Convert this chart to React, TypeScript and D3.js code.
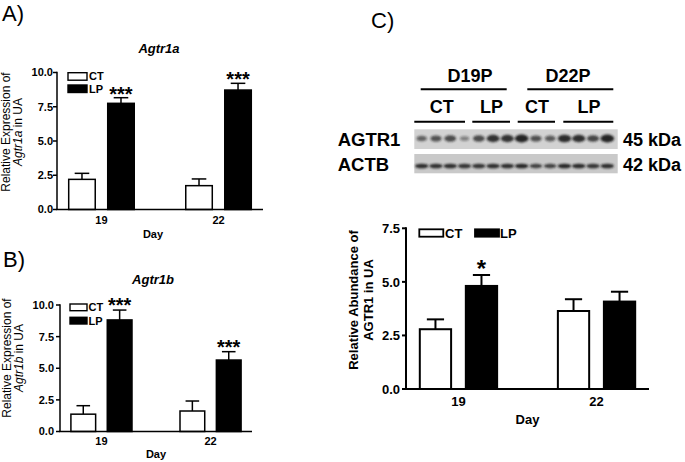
import React from 'react';
import * as d3 from 'd3';

// ---------- data ----------
const days = ['19', '22'];
const groups = ['CT', 'LP'];

// Panel A: Agtr1a relative expression
const aCT = [2.2, 1.74];
const aCTsem = [0.44, 0.49];
const aLP = [7.75, 8.72];
const aLPsem = [0.41, 0.49];
const aLPsig = ['***', '***'];

// Panel B: Agtr1b relative expression
const bCT = [1.37, 1.62];
const bCTsem = [0.67, 0.79];
const bLP = [8.82, 5.65];
const bLPsem = [0.78, 0.66];
const bLPsig = ['***', '***'];

// Panel C: AGTR1 protein abundance
const cCT = [2.79, 3.64];
const cCTsem = [0.46, 0.55];
const cLP = [4.81, 4.08];
const cLPsem = [0.51, 0.46];
const cLPsig = ['*', ''];

const abTicks = [0, 2.5, 5, 7.5, 10];
const cTicks = [0, 2.5, 5, 7.5];

// Western blot band intensities (14 lanes)
const lanes = d3.range(14);
const agtr1Intensity = [0.5, 0.6, 0.68, 0.3, 0.68, 0.85, 0.85, 0.95, 0.62, 0.55, 0.9, 0.88, 0.72, 0.95];
const actbIntensity = [0.9, 0.88, 0.9, 0.85, 0.85, 0.9, 0.9, 0.95, 0.75, 0.75, 0.95, 0.92, 0.85, 0.9];

const FONT = "'Liberation Sans', Arial, Helvetica, sans-serif";
const fmt = d3.format('.1f');

type Cfg = {
  x0: number; x1: number; y0: number; y1: number; yMax: number; ticks: number[];
  sw: number; tickFont: number; tickRight: number; xLabelY: number;
  starFont: number; starGap: number;
};

function BarPanel({ cfg, ct, ctSem, lp, lpSem, sig }: { cfg: Cfg; ct: number[]; ctSem: number[]; lp: number[]; lpSem: number[]; sig: string[] }) {
  const x = d3.scaleBand().domain(days).range([cfg.x0, cfg.x1]).paddingInner(0.44).paddingOuter(0.1);
  const xs = d3.scaleBand().domain(groups).range([0, x.bandwidth()]).paddingInner(0.32);
  const y = d3.scaleLinear().domain([0, cfg.yMax]).range([cfg.y0, cfg.y1]);
  const series = [
    { g: 'CT', vals: ct, sem: ctSem, fill: '#fff', sig: ['', ''] },
    { g: 'LP', vals: lp, sem: lpSem, fill: '#000', sig },
  ];
  return (
    <g>
      {series.map((s) =>
        days.map((d, i) => {
          const bx = (x(d) as number) + (xs(s.g) as number);
          const bw = xs.bandwidth();
          const cx = bx + bw / 2;
          const top = y(s.vals[i]);
          const et = y(s.vals[i] + s.sem[i]);
          const cap = bw * 0.55;
          return (
            <g key={s.g + d}>
              <line x1={cx} x2={cx} y1={top} y2={et} stroke="#000" strokeWidth={cfg.sw} />
              <line x1={cx - cap / 2} x2={cx + cap / 2} y1={et} y2={et} stroke="#000" strokeWidth={cfg.sw} />
              <rect x={bx} y={top} width={bw} height={cfg.y0 - top} fill={s.fill} stroke="#000" strokeWidth={cfg.sw} />
              {s.sig[i] ? (
                <text x={cx} y={et - cfg.starGap + 0.58 * cfg.starFont} textAnchor="middle" fontSize={cfg.starFont} fontWeight="bold" fontFamily={FONT}>
                  {s.sig[i]}
                </text>
              ) : null}
            </g>
          );
        })
      )}
      {/* axes */}
      <line x1={cfg.x0} x2={cfg.x0} y1={cfg.y0} y2={y(cfg.yMax) - cfg.sw / 2} stroke="#000" strokeWidth={cfg.sw} />
      <line x1={cfg.x0 - cfg.sw / 2} x2={cfg.x1} y1={cfg.y0} y2={cfg.y0} stroke="#000" strokeWidth={cfg.sw} />
      {cfg.ticks.map((t) => (
        <g key={t}>
          <line x1={cfg.x0 - 4} x2={cfg.x0} y1={y(t)} y2={y(t)} stroke="#000" strokeWidth={cfg.sw} />
          <text x={cfg.tickRight} y={y(t)} dy="0.36em" textAnchor="end" fontSize={cfg.tickFont} fontWeight="bold" fontFamily={FONT}>
            {fmt(t)}
          </text>
        </g>
      ))}
      {days.map((d) => (
        <text key={d} x={(x(d) as number) + x.bandwidth() / 2} y={cfg.xLabelY} textAnchor="middle" fontSize={cfg.tickFont} fontWeight="bold" fontFamily={FONT}>
          {d}
        </text>
      ))}
    </g>
  );
}

function Legend({ x, y1, y2, w, h, tx, font, horizontal, x2, tx2, ty }: any) {
  if (horizontal) {
    return (
      <g fontFamily={FONT} fontSize={font} fontWeight="bold">
        <rect x={x} y={y1} width={w} height={h} fill="#fff" stroke="#000" strokeWidth={1.8} />
        <text x={tx} y={ty} dy="0.36em">CT</text>
        <rect x={x2} y={y1} width={w} height={h} fill="#000" stroke="#000" strokeWidth={1.8} />
        <text x={tx2} y={ty} dy="0.36em">LP</text>
      </g>
    );
  }
  return (
    <g fontFamily={FONT} fontSize={font} fontWeight="bold">
      <rect x={x} y={y1} width={w} height={h} fill="#fff" stroke="#000" strokeWidth={1.4} />
      <text x={tx} y={y1 + h / 2} dy="0.36em">CT</text>
      <rect x={x} y={y2} width={w} height={h} fill="#000" stroke="#000" strokeWidth={1.4} />
      <text x={tx} y={y2 + h / 2} dy="0.36em">LP</text>
    </g>
  );
}

function Blot() {
  const lx = d3.scalePoint<number>().domain(lanes).range([421.7, 607.3]);
  const strips = [
    { name: 'AGTR1', kda: '45 kDa', y: 129.3, h: 19.7, bg: '#d2d2d2', inten: agtr1Intensity, base: 146, cy: 138.5, tall: true },
    { name: 'ACTB', kda: '42 kDa', y: 154, h: 19.3, bg: '#c9c9c9', inten: actbIntensity, base: 171, cy: 166, tall: false },
  ];
  const headLines = [
    [420.7, 506.7, 89.3], [527.3, 613.3, 89.3],
    [414.3, 465, 121.7], [472.3, 510, 121.7], [517.7, 555, 121.7], [563.3, 613.3, 121.7],
  ];
  return (
    <g fontFamily={FONT} fontWeight="bold">
      <defs>
        <filter id="bandBlur" x="-50%" y="-100%" width="200%" height="300%">
          <feGaussianBlur stdDeviation="1.1" />
        </filter>
      </defs>
      <text x={470} y={82} textAnchor="middle" fontSize={18}>D19P</text>
      <text x={568} y={82} textAnchor="middle" fontSize={18}>D22P</text>
      <text x={441.7} y={112.7} textAnchor="middle" fontSize={18}>CT</text>
      <text x={491.5} y={112.7} textAnchor="middle" fontSize={18}>LP</text>
      <text x={537} y={112.7} textAnchor="middle" fontSize={18}>CT</text>
      <text x={589} y={112.7} textAnchor="middle" fontSize={18}>LP</text>
      {headLines.map(([a, b, yy], i) => (
        <line key={i} x1={a} x2={b} y1={yy} y2={yy} stroke="#000" strokeWidth={2} />
      ))}
      {strips.map((s) => (
        <g key={s.name}>
          <rect x={414.3} y={s.y} width={203.4} height={s.h} fill={s.bg} />
          <g filter="url(#bandBlur)">
            {lanes.map((l) => {
              const v = s.inten[l];
              const rx = s.tall ? 3.5 + 3.5 * v : 5.5 + 1.2 * v;
              const ry = s.tall ? 1.6 + 2.4 * v : 1.8 + 0.6 * v;
              return <ellipse key={l} cx={lx(l)} cy={s.cy} rx={rx} ry={ry} fill="#1e1e1e" opacity={0.25 + 0.75 * v} />;
            })}
          </g>
          <text x={337.7} y={s.base} fontSize={18.5}>{s.name}</text>
          <text x={623} y={s.base} fontSize={18}>{s.kda}</text>
        </g>
      ))}
    </g>
  );
}

export default function App() {
  const cfgA: Cfg = { x0: 57, x1: 263, y0: 209.5, y1: 72.5, yMax: 10, ticks: abTicks, sw: 1.5, tickFont: 11, tickRight: 53, xLabelY: 224, starFont: 20, starGap: 8.7 };
  const cfgB: Cfg = { x0: 60, x1: 252, y0: 431.5, y1: 305, yMax: 10, ticks: abTicks, sw: 1.5, tickFont: 11, tickRight: 54, xLabelY: 445, starFont: 20, starGap: 9.5 };
  const cfgC: Cfg = { x0: 406, x1: 649, y0: 389, y1: 228.3, yMax: 7.5, ticks: cTicks, sw: 2, tickFont: 13, tickRight: 400, xLabelY: 405.7, starFont: 24, starGap: 12.3 };
  return (
    <svg width={685} height={462} viewBox="0 0 685 462" style={{ position: 'absolute', left: 0, top: 0, background: '#fff' }}>
      <rect width={685} height={462} fill="#fff" />
      {/* Panel A */}
      <text x={2} y={21} fontSize={22} fontFamily={FONT}>A)</text>
      <text x={159} y={52.7} textAnchor="middle" fontSize={13} fontWeight="bold" fontStyle="italic" fontFamily={FONT}>Agtr1a</text>
      <g fontFamily={FONT} fontSize={12}>
        <text transform="translate(9.5,132) rotate(-90)" textAnchor="middle">Relative Expression of</text>
        <text transform="translate(21.5,132) rotate(-90)" textAnchor="middle"><tspan fontStyle="italic">Agtr1a</tspan> in UA</text>
      </g>
      <BarPanel cfg={cfgA} ct={aCT} ctSem={aCTsem} lp={aLP} lpSem={aLPsem} sig={aLPsig} />
      <Legend x={68} y1={72.7} y2={85} w={19} h={7.5} tx={89} font={11} />
      <text x={153} y={237.5} textAnchor="middle" fontSize={11} fontWeight="bold" fontFamily={FONT}>Day</text>

      {/* Panel B */}
      <text x={3} y={267} fontSize={22} fontFamily={FONT}>B)</text>
      <text x={153} y={284} textAnchor="middle" fontSize={13} fontWeight="bold" fontStyle="italic" fontFamily={FONT}>Agtr1b</text>
      <g fontFamily={FONT} fontSize={12}>
        <text transform="translate(11,358) rotate(-90)" textAnchor="middle">Relative Expression of</text>
        <text transform="translate(23,358) rotate(-90)" textAnchor="middle"><tspan fontStyle="italic">Agtr1b</tspan> in UA</text>
      </g>
      <BarPanel cfg={cfgB} ct={bCT} ctSem={bCTsem} lp={bLP} lpSem={bLPsem} sig={bLPsig} />
      <Legend x={70} y1={304} y2={317.3} w={17} h={6.7} tx={88.5} font={11} />
      <text x={156} y={458} textAnchor="middle" fontSize={11} fontWeight="bold" fontFamily={FONT}>Day</text>

      {/* Panel C */}
      <text x={371} y={28} fontSize={22} fontFamily={FONT}>C)</text>
      <Blot />
      <g fontFamily={FONT} fontSize={13} fontWeight="bold">
        <text transform="translate(357.5,300) rotate(-90)" textAnchor="middle">Relative Abundance of</text>
        <text transform="translate(373.3,300) rotate(-90)" textAnchor="middle">AGTR1 in UA</text>
      </g>
      <BarPanel cfg={cfgC} ct={cCT} ctSem={cCTsem} lp={cLP} lpSem={cLPsem} sig={cLPsig} />
      <Legend horizontal x={419.3} y1={229.3} w={24} h={7.4} tx={445} x2={475} tx2={500} ty={233} font={13} />
      <text x={527.5} y={423.5} textAnchor="middle" fontSize={13} fontWeight="bold" fontFamily={FONT}>Day</text>
    </svg>
  );
}
